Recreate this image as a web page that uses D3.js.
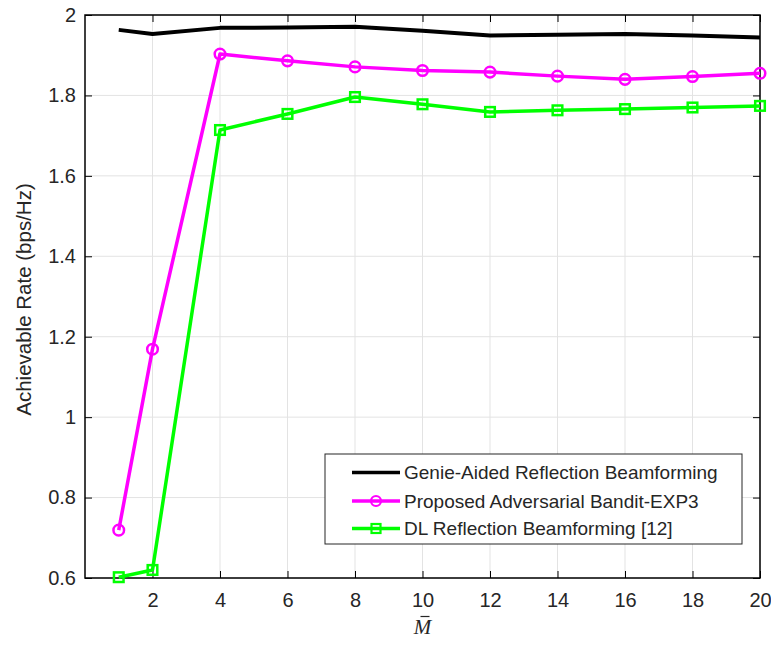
<!DOCTYPE html>
<html lang="en">
<head>
<meta charset="UTF-8">
<script src="https://d3js.org/d3.v7.min.js"></script>
<style>
  body { margin: 0; background: #fff; }
  text { font-family: "Liberation Sans", Arial, sans-serif; fill: #262626; }
  .grid line { stroke: #e3e3e3; stroke-width: 1px; }
</style>
</head>
<body>
<script>
// Data
var mValues = [1, 2, 4, 6, 8, 10, 12, 14, 16, 18, 20];
var genieRate = [1.963, 1.953, 1.968, 1.969, 1.971, 1.961, 1.949, 1.951, 1.953, 1.949, 1.944];
var exp3Rate = [0.719, 1.169, 1.903, 1.886, 1.871, 1.862, 1.858, 1.848, 1.840, 1.847, 1.855];
var dlRate = [0.602, 0.620, 1.714, 1.754, 1.796, 1.778, 1.759, 1.763, 1.766, 1.770, 1.774];
var xTicks = [2, 4, 6, 8, 10, 12, 14, 16, 18, 20];
var yTicks = [0.6, 0.8, 1, 1.2, 1.4, 1.6, 1.8, 2];
var seriesNames = ["Genie-Aided Reflection Beamforming", "Proposed Adversarial Bandit-EXP3", "DL Reflection Beamforming [12]"];

var W = 771, H = 645;
var margin = { top: 15, right: 11, bottom: 67, left: 85 },
    width = W - margin.left - margin.right,
    height = H - margin.top - margin.bottom;

var x = d3.scaleLinear().domain([0, 20]).range([0, width]);
var y = d3.scaleLinear().domain([0.6, 2]).range([height, 0]);

var svg = d3.select("body").append("svg")
    .attr("width", W).attr("height", H);
var g = svg.append("g")
    .attr("transform", "translate(" + margin.left + "," + margin.top + ")");

// grid
g.append("g").attr("class", "grid")
    .selectAll("line").data(xTicks).enter().append("line")
    .attr("x1", function (d) { return x(d); }).attr("x2", function (d) { return x(d); })
    .attr("y1", 0).attr("y2", height);
g.append("g").attr("class", "grid")
    .selectAll("line").data(yTicks).enter().append("line")
    .attr("x1", 0).attr("x2", width)
    .attr("y1", function (d) { return y(d); }).attr("y2", function (d) { return y(d); });

// axes (ticks inside, MATLAB style)
var fmt = function (d) { return d3.format("")(d); };
var xBottom = g.append("g").attr("transform", "translate(0," + height + ")")
    .call(d3.axisBottom(x).tickValues(xTicks).tickSize(-7).tickPadding(15).tickFormat(fmt));
var xTop = g.append("g")
    .call(d3.axisTop(x).tickValues(xTicks).tickSize(-7).tickFormat(""));
var yLeft = g.append("g")
    .call(d3.axisLeft(y).tickValues(yTicks).tickSize(-7).tickPadding(9).tickFormat(fmt));
var yRight = g.append("g").attr("transform", "translate(" + width + ",0)")
    .call(d3.axisRight(y).tickValues(yTicks).tickSize(-7).tickFormat(""));
[xBottom, xTop, yLeft, yRight].forEach(function (a) {
    a.select(".domain").remove();
    a.selectAll(".tick line").attr("stroke", "#000");
    a.selectAll("text").style("font-size", "20px").attr("fill", "#262626");
});

g.append("rect").attr("width", width).attr("height", height)
    .attr("fill", "none").attr("stroke", "#000").attr("stroke-width", 1.5);

// lines
var line = d3.line()
    .x(function (d) { return x(d[0]); })
    .y(function (d) { return y(d[1]); });
function pairs(vals) { return mValues.map(function (m, i) { return [m, vals[i]]; }); }

var colors = ["#000000", "#ff00ff", "#00ff00"];
[genieRate, exp3Rate, dlRate].forEach(function (vals, i) {
    g.append("path").datum(pairs(vals))
        .attr("fill", "none").attr("stroke", colors[i])
        .attr("stroke-width", i === 0 ? 4 : 3.5).attr("stroke-linejoin", "round")
        .attr("d", line);
});

g.selectAll(".circ").data(pairs(exp3Rate)).enter().append("circle")
    .attr("cx", function (d) { return x(d[0]); })
    .attr("cy", function (d) { return y(d[1]); })
    .attr("r", 5.3).attr("fill", "none")
    .attr("stroke", colors[1]).attr("stroke-width", 2.5);

g.selectAll(".sq").data(pairs(dlRate)).enter().append("rect")
    .attr("x", function (d) { return x(d[0]) - 4.8; })
    .attr("y", function (d) { return y(d[1]) - 4.8; })
    .attr("width", 9.6).attr("height", 9.6).attr("fill", "none")
    .attr("stroke", colors[2]).attr("stroke-width", 2.5);

// axis labels
svg.append("text")
    .attr("transform", "translate(31," + (margin.top + height / 2 + 3) + ") rotate(-90)")
    .attr("text-anchor", "middle")
    .style("font-size", "20.5px")
    .text("Achievable Rate (bps/Hz)");

// M with a bar (x-axis label)
var cx = margin.left + width / 2;
svg.append("text")
    .attr("x", cx).attr("y", 634)
    .attr("text-anchor", "middle")
    .style("font-family", "'Liberation Serif', 'DejaVu Serif', serif")
    .style("font-style", "italic")
    .style("font-size", "21px")
    .text("M");
svg.append("line")
    .attr("x1", cx - 2).attr("x2", cx + 7)
    .attr("y1", 616.5).attr("y2", 616.5)
    .attr("stroke", "#262626").attr("stroke-width", 1.2);

// legend
var lg = svg.append("g").attr("transform", "translate(325,454)");
lg.append("rect").attr("width", 417).attr("height", 90)
    .attr("fill", "#fff").attr("stroke", "#262626").attr("stroke-width", 1);
var rowsY = [18.5, 47, 74.5];
seriesNames.forEach(function (name, i) {
    var row = lg.append("g").attr("transform", "translate(0," + rowsY[i] + ")");
    row.append("line").attr("x1", 27).attr("x2", 75)
        .attr("stroke", colors[i]).attr("stroke-width", 3.5);
    if (i === 1) {
        row.append("circle").attr("cx", 51).attr("r", 5).attr("fill", "none")
            .attr("stroke", colors[1]).attr("stroke-width", 2.2);
    }
    if (i === 2) {
        row.append("rect").attr("x", 46.5).attr("y", -4.5).attr("width", 9).attr("height", 9)
            .attr("fill", "none").attr("stroke", colors[2]).attr("stroke-width", 2.2);
    }
    row.append("text").attr("x", 79).attr("dy", "0.35em")
        .style("font-size", "19px").attr("fill", "#000").text(name);
});
</script>
</body>
</html>
